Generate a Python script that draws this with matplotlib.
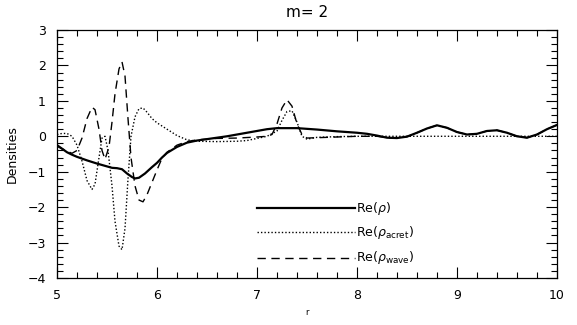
import matplotlib
matplotlib.use("Agg")
import matplotlib.pyplot as plt
from matplotlib.ticker import MultipleLocator

# Re(rho) - total density perturbation
r_tot = [5.00, 5.05, 5.10, 5.15, 5.20, 5.30, 5.40, 5.50, 5.55, 5.60, 5.65, 5.70,
         5.75, 5.78, 5.82, 5.88, 5.95, 6.00, 6.05, 6.10, 6.20, 6.30, 6.40, 6.50,
         6.60, 6.70, 6.80, 6.90, 7.00, 7.10, 7.20, 7.40, 7.60, 7.80, 8.00, 8.10,
         8.20, 8.30, 8.40, 8.50, 8.60, 8.70, 8.80, 8.90, 9.00, 9.10, 9.20, 9.30,
         9.40, 9.50, 9.60, 9.70, 9.80, 9.90, 10.0]
rho_tot = [-0.25, -0.35, -0.45, -0.52, -0.58, -0.68, -0.77, -0.85, -0.89, -0.90,
           -0.93, -1.05, -1.15, -1.19, -1.17, -1.05, -0.87, -0.75, -0.60, -0.47,
           -0.30, -0.18, -0.12, -0.08, -0.04, 0.00, 0.05, 0.10, 0.15, 0.20, 0.23,
           0.23, 0.19, 0.14, 0.10, 0.07, 0.02, -0.04, -0.05, -0.01, 0.10, 0.22,
           0.31, 0.24, 0.12, 0.05, 0.07, 0.15, 0.17, 0.10, 0.00, -0.04, 0.05,
           0.20, 0.32]

# Re(rho_acret)
r_acr = [5.00, 5.05, 5.10, 5.15, 5.20, 5.25, 5.30, 5.35, 5.38, 5.42, 5.45, 5.48,
         5.51, 5.55, 5.58, 5.62, 5.65, 5.68, 5.71, 5.74, 5.78, 5.82, 5.86, 5.90,
         5.95, 6.00, 6.10, 6.20, 6.30, 6.40, 6.60, 6.80, 6.90, 7.00, 7.10, 7.20,
         7.25, 7.30, 7.35, 7.40, 7.45, 7.50, 7.60, 7.80, 8.00, 9.00, 10.0]
rho_acr = [0.05, 0.08, 0.08, 0.00, -0.25, -0.70, -1.25, -1.50, -1.35, -0.60,
           -0.05, 0.00, -0.40, -1.40, -2.40, -3.10, -3.20, -2.60, -1.20, 0.00,
           0.55, 0.78, 0.80, 0.68, 0.50, 0.38, 0.20, 0.02, -0.10, -0.14, -0.15,
           -0.14, -0.12, -0.06, 0.00, 0.15, 0.45, 0.70, 0.72, 0.40, 0.00, -0.08,
           -0.03, -0.01, 0.00, 0.00, 0.00]

# Re(rho_wave)
r_wav = [5.00, 5.05, 5.10, 5.15, 5.20, 5.25, 5.30, 5.35, 5.38, 5.42, 5.45, 5.48,
         5.52, 5.55, 5.58, 5.62, 5.65, 5.68, 5.71, 5.74, 5.78, 5.82, 5.86, 5.90,
         5.95, 6.00, 6.05, 6.10, 6.20, 6.30, 6.40, 6.60, 6.80, 7.00, 7.10, 7.15,
         7.20, 7.25, 7.30, 7.35, 7.40, 7.45, 7.50, 7.60, 7.80, 8.00, 8.20, 8.30,
         8.40, 8.50, 8.60, 8.70, 8.80, 8.90, 9.00, 9.10, 9.20, 9.30, 9.40, 9.50,
         9.60, 9.70, 9.80, 9.90, 10.0]
rho_wav = [-0.28, -0.35, -0.42, -0.48, -0.40, -0.05, 0.50, 0.82, 0.75, 0.20,
           -0.40, -0.65, -0.30, 0.40, 1.20, 1.90, 2.10, 1.70, 0.50, -0.60, -1.40,
           -1.80, -1.85, -1.65, -1.30, -0.95, -0.62, -0.45, -0.25, -0.15, -0.10,
           -0.06, -0.05, -0.02, 0.00, 0.05, 0.35, 0.80, 1.03, 0.85, 0.35, 0.05,
           -0.05, -0.04, -0.02, 0.00, 0.00, -0.04, -0.05, -0.01, 0.10, 0.22, 0.31,
           0.24, 0.12, 0.05, 0.07, 0.15, 0.17, 0.10, 0.00, -0.04, 0.05, 0.20, 0.32]

fig = plt.figure(figsize=(5.77, 3.25), dpi=100)
ax = fig.add_axes([0.0988, 0.1446, 0.8665, 0.7631])

ax.plot(r_tot, rho_tot, color='black', lw=1.6, solid_joinstyle='round')
ax.plot(r_acr, rho_acr, color='black', lw=1.0, linestyle=(0, (1, 1.5)))
ax.plot(r_wav, rho_wav, color='black', lw=1.0, linestyle=(0, (6, 4)))

ax.set_xlim(5, 10)
ax.set_ylim(-4, 3)
ax.xaxis.set_major_locator(MultipleLocator(1))
ax.xaxis.set_minor_locator(MultipleLocator(0.2))
ax.yaxis.set_major_locator(MultipleLocator(1))
ax.yaxis.set_minor_locator(MultipleLocator(0.2))
ax.tick_params(which='both', direction='in', top=True, right=True,
               labelsize=9, width=0.8)
ax.tick_params(which='major', length=8, pad=8)
ax.tick_params(which='minor', length=4)
for s in ax.spines.values():
    s.set_linewidth(0.9)

ax.set_title('m= 2', fontsize=11, pad=9)
ax.set_ylabel('Densities', fontsize=9, labelpad=6)
ax.set_xlabel('r', fontsize=6, labelpad=4)

# legend drawn IDL style inside the axes
leg = [('-', 1.6, r'Re($\rho$)', 0.282),
       ((0, (1, 1.5)), 1.0, r'Re($\rho_{\rm acret}$)', 0.185),
       ((0, (6, 4)), 1.0, r'Re($\rho_{\rm wave}$)', 0.081)]
for ls, lw, txt, yy in leg:
    ax.plot([0.40, 0.596], [yy, yy], transform=ax.transAxes, color='black',
            lw=lw, linestyle=ls)
    ax.text(0.598, yy, txt, transform=ax.transAxes, fontsize=9,
            va='center', ha='left')

fig.savefig('out.png', dpi=100)
